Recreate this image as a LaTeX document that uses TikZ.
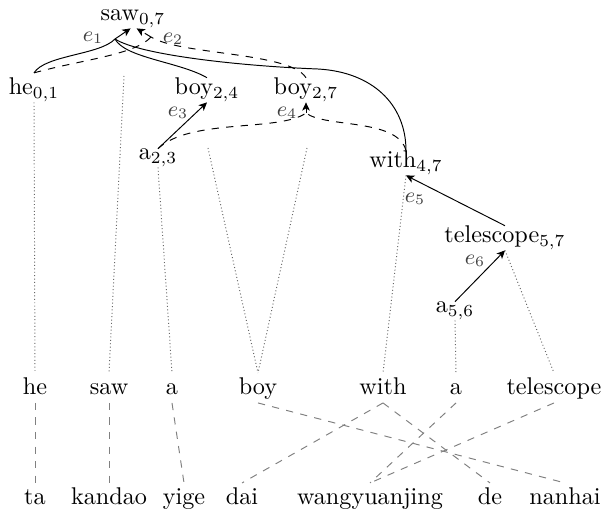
\documentclass[tikz,border=0pt]{standalone}
\usetikzlibrary{arrows.meta}
\begin{document}
\begin{tikzpicture}[x=0.4133pt,y=-0.4133pt,
  hnode/.style={inner sep=0pt, anchor=base},
  wordnode/.style={inner sep=1.5pt, anchor=base, text height=7pt, text depth=2pt},
  elab/.style={font=\small, text=black!75, inner sep=0pt},
  tieln/.style={densely dotted, black!60},
  alnln/.style={dashed, black!50},
  >={Stealth[length=3.4pt,width=3.2pt,inset=0.9pt]}]
\useasboundingbox (0,0) rectangle (603,513);

% hypergraph nodes
\node[hnode] (saw07) at (133,21) {saw$_{0,7}$};
\node[hnode] (he01) at (34,95) {he$_{0,1}$};
\node[hnode] (boy24) at (207,95) {boy$_{2,4}$};
\node[hnode] (boy27) at (306,95) {boy$_{2,7}$};
\node[hnode] (a23) at (158,160) {a$_{2,3}$};
\node[hnode] (with47) at (406,168) {with$_{4,7}$};
\node[hnode] (tel57) at (505,243) {telescope$_{5,7}$};
\node[hnode] (a56) at (455,313) {a$_{5,6}$};

% English words
\node[wordnode] (w1) at (35,394) {he};
\node[wordnode] (w2) at (109,394) {saw};
\node[wordnode] (w3) at (172,394) {a};
\node[wordnode] (w4) at (258,394) {boy};
\node[wordnode] (w5) at (383,394) {with};
\node[wordnode] (w6) at (456,394) {a};
\node[wordnode] (w7) at (554,394) {telescope};

% Chinese (pinyin) words
\node[wordnode] (c1) at (35,504) {ta};
\node[wordnode] (c2) at (109,504) {kandao};
\node[wordnode] (c3) at (184,504) {yige};
\node[wordnode] (c4) at (242,504) {dai};
\node[wordnode] (c5) at (370,504) {wangyuanjing};
\node[wordnode] (c6) at (490,504) {de};
\node[wordnode] (c7) at (565,504) {nanhai};

% junctions
\coordinate (J1) at (115,39);
\coordinate (J2) at (151,37);
\coordinate (J4) at (306,113);

% e1
\draw[->] (J1) -- ([xshift=-1pt]saw07.south);
\draw ([yshift=2pt]he01.north) .. controls (45,55) and (100,55) .. (J1);
\draw (J1) .. controls (125,58) and (180,62) .. (boy24.north);
\draw (J1) .. controls (140,55) and (240,66) .. (318,69) .. controls (372,72) and (406,104) .. (with47.north);
\node[elab] (e1) at (93,38) {$e_1$};

% e2
\draw[dashed,->] (J2) -- ([xshift=1.5pt]saw07.south);
\draw[dashed] ([yshift=2pt]he01.north) .. controls (80,60) and (135,55) .. (J2);
\draw[dashed] (boy27.north) .. controls (290,52) and (180,55) .. (J2);
\node[elab] (e2) at (173,39) {$e_2$};

% e3
\draw[->] (a23.north) -- (boy24.south);
\node[elab] (e3) at (178,113) {$e_3$};

% e4
\draw[dashed,->] (J4) -- (boy27.south);
\draw[dashed] (a23.north) .. controls (190,118) and (280,132) .. (J4);
\draw[dashed] (with47.north) .. controls (398,118) and (325,128) .. (J4);
\node[elab] (e4) at (287,113) {$e_4$};

% e5, e6
\draw[->] (tel57.north) -- (with47.south);
\node[elab] (e5) at (415,199) {$e_5$};
\draw[->] (a56.north) -- (tel57.south);
\node[elab] (e6) at (475,261) {$e_6$};

% dotted ties to words
\coordinate (sawd) at (124,76);
\coordinate (boy24d) at (208,148);
\coordinate (boy27d) at (307,148);
\draw[tieln] (he01.south) -- (w1.north);
\draw[tieln] (sawd) -- (w2.north);
\draw[tieln] (a23.south) -- (w3.north);
\draw[tieln] (boy24d) -- (w4.north);
\draw[tieln] (boy27d) -- (w4.north);
\draw[tieln] (with47.south) -- (w5.north);
\draw[tieln] (a56.south) -- (w6.north);
\draw[tieln] (tel57.south) -- (w7.north);

% word alignment
\draw[alnln] (w1.south) -- (c1.north);
\draw[alnln] (w2.south) -- (c2.north);
\draw[alnln] (w3.south) -- (c3.north);
\draw[alnln] (w4.south) -- (c7.north);
\draw[alnln] (w5.south) -- (c4.north);
\draw[alnln] (w5.south) -- (c6.north);
\draw[alnln] (w6.south) -- (c5.north);
\draw[alnln] (w7.south) -- (c5.north);
\end{tikzpicture}
\end{document}
